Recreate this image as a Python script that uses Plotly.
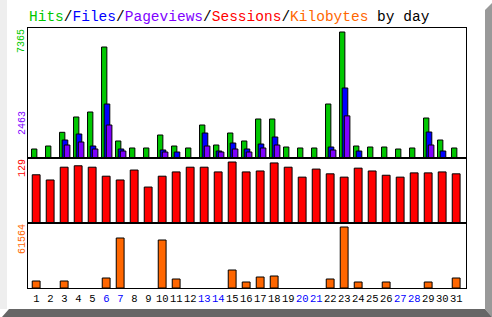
import plotly.graph_objects as go

days = list(range(1, 32))
hits = [526, 701, 1502, 2397, 2689, 6488, 994, 585, 585, 1344, 701, 585, 1929, 760, 1461, 994,
        2280, 2280, 643, 585, 585, 3156, 7365, 701, 643, 643, 526, 585, 2338, 1052, 585]
files = [0, 0, 1052, 1403, 701, 3156, 526, 0, 0, 468, 351, 0, 1461, 409, 877, 526,
         818, 1227, 0, 0, 0, 643, 4092, 409, 0, 0, 0, 0, 1520, 409, 0]
pageviews = [0, 0, 760, 935, 526, 1929, 409, 0, 0, 351, 0, 0, 701, 351, 526, 351,
             585, 760, 0, 0, 0, 468, 2463, 0, 0, 0, 0, 0, 760, 0, 0]
sessions = [102, 91, 118, 121, 118, 99, 91, 112, 76, 99, 108, 118, 118, 108, 129, 108,
            110, 127, 118, 97, 114, 104, 97, 116, 110, 101, 97, 106, 106, 108, 104]
kilobytes = [7065, 0, 7065, 0, 0, 10093, 50463, 0, 0, 48444, 9083, 0, 0, 0, 18166, 6055,
             11102, 12111, 0, 0, 0, 9083, 61564, 6055, 0, 6055, 0, 0, 6055, 0, 10093]
weekend_days = [6, 7, 13, 14, 20, 21, 27, 28]

GREEN, BLUE, PURPLE, RED, ORANGE = "#00C800", "#0000FF", "#8000FF", "#FF0000", "#FF6600"
W, H = 492, 317
FONT = "Liberation Mono"


def px(x):
    return x / W


def py(y):
    return 1 - y / H


def nonzero(vals):
    xs = [d for d, v in zip(days, vals) if v > 0]
    ys = [v for v in vals if v > 0]
    return xs, ys


fig = go.Figure()
line = dict(color="black", width=1)
for vals, col, off, wid, xa, ya in [
    (hits, GREEN, -0.34, 0.38, "x", "y"),
    (files, BLUE, -0.15, 0.40, "x", "y"),
    (pageviews, PURPLE, 0.0, 0.40, "x", "y"),
    (sessions, RED, -0.29, 0.56, "x2", "y2"),
    (kilobytes, ORANGE, -0.29, 0.56, "x3", "y3"),
]:
    xs, ys = nonzero(vals)
    fig.add_bar(x=xs, y=ys, offset=off, width=wid, marker=dict(color=col, line=line),
                xaxis=xa, yaxis=ya)

xr = [0.407, 0.407 + 438 / 14]
ticktext = [f"<span style='color:{BLUE}'>{d}</span>" if d in weekend_days else str(d) for d in days]
xcommon = dict(range=xr, domain=[px(28), px(466)], showline=True, mirror=True, linecolor="black",
               linewidth=1, showgrid=False, zeroline=False, fixedrange=True)
ycommon = dict(showline=True, mirror=True, linecolor="black", linewidth=1, showgrid=False,
               zeroline=False, showticklabels=False, ticks="")

fig.update_layout(
    width=W, height=H, autosize=False, margin=dict(l=0, r=0, t=0, b=0),
    paper_bgcolor="white", plot_bgcolor="white", barmode="overlay", showlegend=False,
    xaxis=dict(**xcommon, anchor="y", showticklabels=False, ticks=""),
    xaxis2=dict(**xcommon, anchor="y2", matches="x", showticklabels=False, ticks=""),
    xaxis3=dict(**xcommon, anchor="y3", matches="x", tickvals=days, ticktext=ticktext, ticks="",
                tickfont=dict(family=FONT, size=10.5, color="black"), tickangle=0),
    yaxis=dict(**ycommon, domain=[py(158), py(28)], range=[0, 7365 * 130 / 126]),
    yaxis2=dict(**ycommon, domain=[py(223), py(158)], range=[0, 129 * 65 / 61]),
    yaxis3=dict(**ycommon, domain=[py(288), py(223)], range=[0, 61564 * 65 / 61]),
)

title = (f"<span style='color:{GREEN}'>Hits</span>/<span style='color:{BLUE}'>Files</span>/"
         f"<span style='color:{PURPLE}'>Pageviews</span>/<span style='color:{RED}'>Sessions</span>/"
         f"<span style='color:{ORANGE}'>Kilobytes</span> by day")
ann = [dict(text=title, x=px(27), y=py(17.5), xref="paper", yref="paper", xanchor="left",
            yanchor="middle", showarrow=False, font=dict(family=FONT, size=14.5, color="black"))]
for txt, col, yc in [("7365", GREEN, 41), ("2463", PURPLE, 123), ("129", RED, 168), ("61564", ORANGE, 239)]:
    ann.append(dict(text=txt, x=px(22), y=py(yc), xref="paper", yref="paper", xanchor="center",
                    yanchor="middle", textangle=-90, showarrow=False,
                    font=dict(family=FONT, size=10, color=col)))
fig.update_layout(annotations=ann)

shapes = [
    dict(type="rect", xref="paper", yref="paper", x0=0, x1=px(7), y0=py(309), y1=1,
         fillcolor="#EEEEEE", line=dict(width=0), layer="below"),
    dict(type="path", xref="paper", yref="paper",
         path=f"M {px(485)} {py(10)} L 1 {py(3)} L 1 0 L {px(485)} {py(309)} Z",
         fillcolor="#999999", line=dict(width=0), layer="below"),
    dict(type="path", xref="paper", yref="paper",
         path=f"M {px(2)} 0 L {px(9)} {py(309)} L {px(485)} {py(309)} L 1 0 Z",
         fillcolor="#666666", line=dict(width=0), layer="below"),
]
fig.update_layout(shapes=shapes)

fig.write_html("out.html")
